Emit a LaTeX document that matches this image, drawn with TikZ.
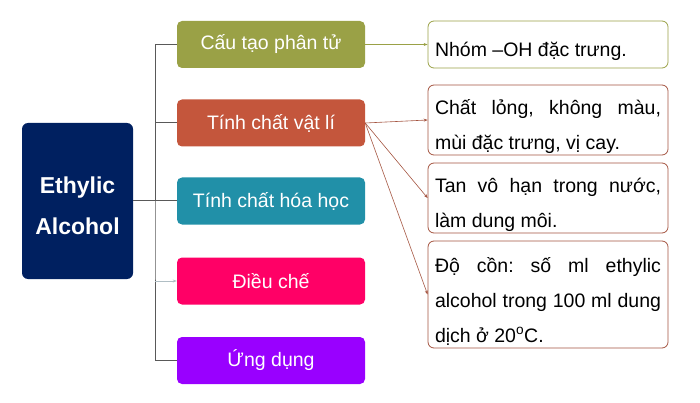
\documentclass[tikz,border=0pt]{standalone}
\usepackage{fontspec}
\setmainfont{Liberation Sans}
\usetikzlibrary{arrows.meta}
\definecolor{navy}{RGB}{0,32,96}
\definecolor{olive}{RGB}{154,161,70}
\definecolor{brick}{RGB}{196,86,60}
\definecolor{teal}{RGB}{33,144,168}
\definecolor{rose}{RGB}{255,0,102}
\definecolor{violet}{RGB}{153,0,255}
\definecolor{linegray}{RGB}{89,89,89}
\definecolor{palegray}{RGB}{176,190,196}
\definecolor{brickline}{RGB}{164,84,64}
\tikzset{
  topic/.style={rounded corners=5pt, minimum width=188pt, minimum height=47pt,
    text=white, inner sep=0pt, font=\fontsize{19.5}{23}\selectfont},
  note/.style={draw, line width=0.8pt, rounded corners=6pt, fill=white,
    text width=226pt, inner xsep=7pt, inner ysep=0pt, align=justify,
    font=\fontsize{19.5}{35}\selectfont\frenchspacing,
    execute at begin node={\rule{0pt}{28pt}}},
  link/.style={linegray, line width=1pt},
  tip/.style={-{Stealth[length=4pt,width=3pt]}, line width=0.6pt}
}

\begin{document}
\begin{tikzpicture}[x=1pt,y=-1pt]
\useasboundingbox (0,0) rectangle (700,403);

\node[fill=navy, rounded corners=6pt, minimum width=111pt, minimum height=156pt,
      text=white, align=center, font=\bfseries\fontsize{23}{41}\selectfont]
      (ethanol) at (77.5,201) {\rule{0pt}{27pt}Ethylic\\Alcohol};

\node[topic, fill=olive]  (cautao) at (271,44.5) {Cấu tạo phân tử};
\node[topic, fill=brick]  (vatli)  at (271,123)  {Tính chất vật lí};
\node[topic, fill=teal]   (hoahoc) at (271,201)  {Tính chất hóa học};
\node[topic, fill=rose]   (dieuche) at (271,281) {Điều chế};
\node[topic, fill=violet] (ungdung) at (271,360.5) {Ứng dụng};

\node[note, draw=olive, minimum height=47pt] (nhom) at (548,44.5)
      {Nhóm –OH đặc trưng.};
\node[note, draw=brickline, minimum height=70pt] (long) at (548,120)
      {Chất lỏng, không màu,\linebreak mùi đặc trưng, vị cay.};
\node[note, draw=brickline, minimum height=70pt] (tan) at (548,198)
      {Tan vô hạn trong nước,\linebreak làm dung môi.};
\node[note, draw=brickline, minimum height=107pt] (docon) at (548,294.5)
      {Độ cồn: số ml ethylic\linebreak alcohol trong 100 ml dung\linebreak dịch ở 20\textsuperscript{o}C.};

% trunk
\coordinate (trunk) at (155,201);
\draw[link] (ethanol.east) -- (trunk);
\draw[link] (cautao.west) -| (trunk) |- (ungdung.west);
\draw[link] (trunk) |- (vatli.west);
\draw[link] (trunk) -- (hoahoc.west);
\draw[palegray, tip] (trunk |- dieuche.west) -- (dieuche.west);

% notes
\draw[olive, tip] (cautao.east) -- (nhom.west);
\draw[brickline, tip] (vatli.east) -- (long.west);
\draw[brickline, tip] (vatli.east) -- (tan.west);
\draw[brickline, tip] (vatli.east) -- (docon.west);
\end{tikzpicture}
\end{document}
